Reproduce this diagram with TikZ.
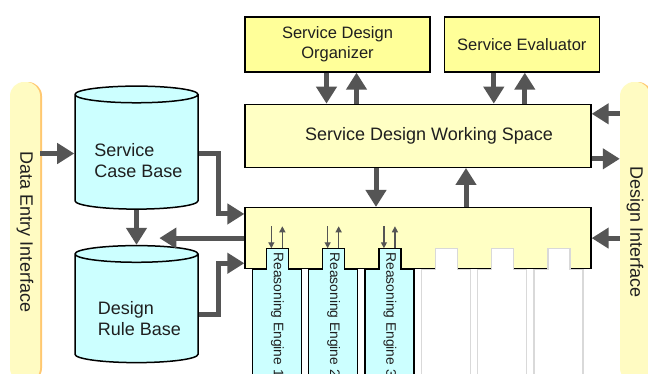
\documentclass[tikz,border=0pt]{standalone}
\usepackage{fontspec}
\setmainfont{Liberation Sans}
\usepackage{graphicx}
\usetikzlibrary{positioning,shapes.geometric,arrows.meta,shadows}

\definecolor{boxyellow}{HTML}{FFFF99}
\definecolor{paleyellow}{HTML}{FFFFC4}
\definecolor{barfill}{HTML}{FFFBC2}
\definecolor{barorange}{HTML}{FFC870}
\definecolor{dbcyan}{HTML}{CCFFFF}
\definecolor{arrowgray}{HTML}{555555}

\tikzset{
  topbox/.style={draw, line width=1.3pt, fill=boxyellow, minimum height=55pt, align=center,
    font=\fontsize{16.5}{20}\selectfont},
  wsbox/.style={draw, line width=1.3pt, fill=paleyellow, minimum width=346pt},
  database/.style={cylinder, shape border rotate=90, aspect=2.5, draw, line width=1.5pt,
    fill=dbcyan, minimum width=123pt},
  ifbar/.style={rounded corners=14pt, fill=barfill, minimum width=30pt, minimum height=300pt,
    general shadow={fill=barorange, shadow xshift=2pt}},
  bigarrow/.style={draw=arrowgray, line width=5pt, -{Triangle[length=17pt,width=20pt]}},
  smallarrow/.style={draw=arrowgray, line width=1.2pt, -{Triangle[length=6pt,width=6pt]}},
  enginetab/.style={draw, line width=1.3pt, fill=dbcyan},
  emptytab/.style={draw=black!15, line width=1.3pt, fill=white},
  enginetext/.style={rotate=-90, anchor=west, inner sep=0pt, font=\fontsize{13.8}{16}\selectfont}
}

\begin{document}
\begin{tikzpicture}[x=1pt, y=-1pt, font=\fontsize{18}{21}\selectfont, text=black!88]
  \clip (0,0) rectangle (648,373);
  \fill[white] (0,0) rectangle (648,373);

  % interfaces
  \node[ifbar] (dei) at (25,232) {\rotatebox{-90}{Data Entry Interface}};
  \node[ifbar] (di) at (635,232) {\rotatebox{-90}{Design Interface}};

  % knowledge bases
  \node[database, minimum height=123pt] (scb) at (136.5,153.5) {};
  \node[database, minimum height=117pt, below=35pt of scb] (drb) {};
  \node[align=left] (scbtext) at ([xshift=2pt,yshift=-7pt]scb.center) {Service\\Case Base};
  \node[align=left] (drbtext) at ([xshift=3pt,yshift=-9pt]drb.center) {Design\\Rule Base};

  % design modules
  \node[topbox, minimum width=185pt] (org) at (337.5,44.5) {Service Design\\Organizer};
  \node[topbox, minimum width=155pt, right=13pt of org] (eval) {Service Evaluator};
  \node[wsbox, minimum height=63pt, anchor=north west,
    label={[xshift=11pt]center:Service Design Working Space}] (ws) at ([yshift=-31pt]org.south west) {};
  \node[wsbox, minimum height=61pt, below=39pt of ws] (lower) {};

  % reasoning engine slots
  \foreach \i in {1,...,6} {
    \coordinate (slot\i) at ([xshift={8pt+(\i-1)*56.3pt}]lower.south west);
  }
  \foreach \i in {1,2,3} {
    \filldraw[enginetab] (slot\i) ++(0,110) -- ++(0,-110) -- ++(14,0) -- ++(0,-21)
      -- ++(22,0) -- ++(0,21) -- ++(13,0) -- ++(0,110);
    \node[enginetext] (eng\i) at ([xshift=25pt,yshift=17pt]slot\i) {Reasoning Engine \i};
    \draw[smallarrow] ([xshift=19pt,yshift=43pt]slot\i) -- ([xshift=19pt,yshift=21pt]slot\i);
    \draw[smallarrow] ([xshift=30pt,yshift=21pt]slot\i) -- ([xshift=30pt,yshift=43pt]slot\i);
  }
  \foreach \i in {4,5,6} {
    \filldraw[emptytab] (slot\i) ++(0,110) -- ++(0,-110) -- ++(14,0) -- ++(0,-21)
      -- ++(22,0) -- ++(0,21) -- ++(13,0) -- ++(0,110);
  }

  % arrows
  \draw[bigarrow] ([xshift=-11pt]org.south) -- ([xshift=-11pt]org.south |- ws.north);
  \draw[bigarrow] ([xshift=19pt]org.south |- ws.north) -- ([xshift=19pt]org.south);
  \draw[bigarrow] ([xshift=-28pt]eval.south) -- ([xshift=-28pt]eval.south |- ws.north);
  \draw[bigarrow] ([xshift=3pt]eval.south |- ws.north) -- ([xshift=3pt]eval.south);
  \draw[bigarrow] ([xshift=-42pt]ws.south) -- ([xshift=-42pt]ws.south |- lower.north);
  \draw[bigarrow] ([xshift=48pt]ws.south |- lower.north) -- ([xshift=48pt]ws.south);

  \draw[bigarrow] ([yshift=22pt]ws.east -| di.west) -- ([yshift=22pt]ws.east);
  \draw[bigarrow] ([yshift=-23pt]ws.east) -- ([yshift=-23pt]ws.east -| di.west);
  \draw[bigarrow] (di.west |- lower.east) -- (lower.east);

  \draw[bigarrow] (dei.east |- scb.west) -- (scb.west);
  \draw[bigarrow] (scb.south) -- (drb.north);
  \draw[bigarrow] (lower.west) -- ++(-85,0);
  \draw[bigarrow] (scb.east) -- ++(20,0) |- ([yshift=-7pt]lower.north west);
  \draw[bigarrow] ([yshift=-4pt]drb.east) -- ++(20,0) |- ([yshift=6pt]lower.south west);
\end{tikzpicture}
\end{document}
